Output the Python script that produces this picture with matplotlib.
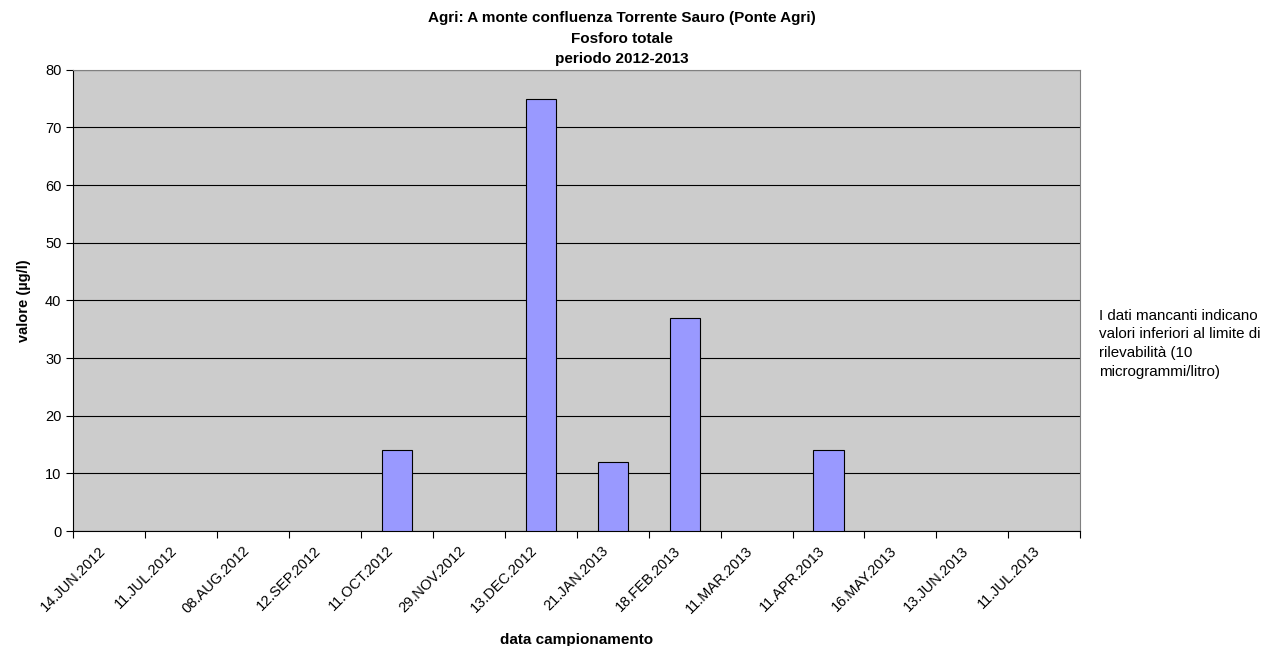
import numpy as np
import matplotlib
matplotlib.use("Agg")
import matplotlib.pyplot as plt
import matplotlib.transforms as mtransforms

plt.rcParams['font.family'] = ['Liberation Sans', 'DejaVu Sans']

# campionamenti e valori (0 = sotto il limite di rilevabilità)
dates = ['14.JUN.2012', '11.JUL.2012', '08.AUG.2012', '12.SEP.2012', '11.OCT.2012',
         '29.NOV.2012', '13.DEC.2012', '21.JAN.2013', '18.FEB.2013', '11.MAR.2013',
         '11.APR.2013', '16.MAY.2013', '13.JUN.2013', '11.JUL.2013']
values = [0, 0, 0, 0, 14, 0, 75, 12, 37, 0, 14, 0, 0, 0]
yticks = [0, 10, 20, 30, 40, 50, 60, 70, 80]

fig = plt.figure(figsize=(12.62, 6.46), dpi=100)
ax = fig.add_axes([0.058, 0.178, 0.798, 0.714])
ax.set_facecolor('#cccccc')

x = np.arange(len(dates))
vals = np.array(values, dtype=float)
mask = vals > 0
ax.bar(x[mask], vals[mask], width=0.42, color='#9999ff', edgecolor='black',
       linewidth=0.8, zorder=3)

ax.set_xlim(-0.5, len(dates) - 0.5)
ax.set_ylim(0, 80)
ax.set_yticks(yticks)
ax.yaxis.grid(True, color='black', linewidth=0.8, zorder=1)
ax.set_axisbelow(True)

# tacche sui confini tra categorie, etichette al centro
ax.set_xticks(np.arange(len(dates) + 1) - 0.5)
ax.set_xticklabels([])
ax.set_xticks(x, minor=True)
ax.set_xticklabels(dates, minor=True, rotation=45, ha='right', rotation_mode='anchor',
                   fontsize=10.5)
ax.tick_params(axis='x', which='minor', length=0, pad=9)
ax.tick_params(axis='x', which='major', length=5, color='black')
ax.tick_params(axis='y', labelsize=10.5, length=5)

shift = mtransforms.ScaledTranslation(-8 / 72, 0, fig.dpi_scale_trans)
for lbl in ax.get_xticklabels(minor=True):
    lbl.set_transform(lbl.get_transform() + shift)

for s in ['top', 'right']:
    ax.spines[s].set_color('#808080')
for s in ['left', 'bottom']:
    ax.spines[s].set_color('black')

ax.set_ylabel('valore (µg/l)', fontsize=10.5, fontweight='bold', labelpad=10)
ax.set_xlabel('data campionamento', fontsize=11, fontweight='bold', labelpad=12)

fig.text(0.493, 0.983, 'Agri: A monte confluenza Torrente Sauro (Ponte Agri)\nFosforo totale\nperiodo 2012-2013',
         ha='center', va='top', fontsize=11, fontweight='bold', linespacing=1.6)

fig.text(0.871, 0.522, 'I dati mancanti indicano\nvalori inferiori al limite di\nrilevabilità (10\nmicrogrammi/litro)',
         ha='left', va='top', fontsize=10.9, linespacing=1.42)

fig.savefig('out.png', dpi=100)
